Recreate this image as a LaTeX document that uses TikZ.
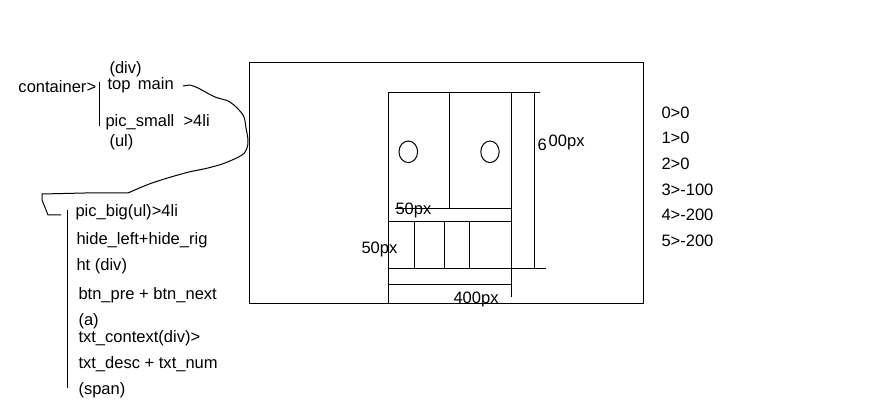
\documentclass[tikz,border=0pt]{standalone}
\usepackage{fontspec}
\setmainfont{Liberation Sans}
\begin{document}
\begin{tikzpicture}[x=0.75pt, y=-0.75pt, line width=0.75pt,
  txt/.style={font=\fontsize{12.4}{14}\selectfont, inner sep=0pt, anchor=base west}]
  \useasboundingbox (0,0) rectangle (875,406);
  % left: page structure notes
  \node[txt] (div) at (109,73.5) {(div)};
  \node[txt] (container) at (18,92.5) {container>};
  \node[txt] (topmain) at (107,89.5) {top\hspace{0.45em}main};
  \node[txt] (picsmall) at (105,127) {pic\_small \ >4li};
  \node[txt] (ul) at (109,147) {(ul)};
  \draw (99,82) -- (99,126);
  \node[txt] (picbig) at (75,217) {pic\_big(ul)>4li};
  \node[txt] (hide) at (76,245) {hide\_left+hide\_rig};
  \node[txt] (ht) at (76,271) {ht (div)};
  \node[txt] (btn) at (78,299) {btn\_pre + btn\_next};
  \node[txt] (a) at (78,325) {(a)};
  \node[txt] (context) at (78,342) {txt\_context(div)>};
  \node[txt] (desc) at (78,368) {txt\_desc + txt\_num};
  \node[txt] (span) at (78,394) {(span)};
  \draw (67,210) -- (67,388);
  % hand drawn link
  \coordinate (linkA) at (183,86);
  \coordinate (linkB) at (61,215);
  \draw[line join=round] (linkA) -- (190,85) plot[smooth, tension=0.55] coordinates {(190,85) (198,88) (215,97) (230,102) (243,115) (246,128) (248,140) (247,148) (242,155) (225,163) (208,168) (185,173) (152,183) (128,193)} -- (85,193) -- (42,194) -- (42,200) -- (48,215) -- (linkB);
  % frame
  \draw (249,63) rectangle (643,303);
  \draw (388,93) -- (540,93);
  \draw (388,93) -- (388,303);
  \draw (449,93) -- (449,209);
  \draw (511,93) -- (511,297);
  \draw (534,93) -- (534,268);
  \draw (395,209) -- (512,209);
  \draw (388,222) -- (512,222);
  \foreach \x in {414,444,469}
    \draw (\x,222) -- (\x,268);
  \draw (388,268) -- (546,268);
  \draw (388,284) -- (512,284);
  \draw (408.3,151.8) ellipse (9.3 and 10.8);
  \draw (490,151.8) ellipse (9.2 and 10.8);
  \node[txt] (h600) at (537,151) {6\raisebox{3pt}{\kern1.5pt00px}};
  \node[txt] (w50a) at (395,215) {50px};
  \node[txt] (w50b) at (361,253) {50px};
  \node[txt] (w400) at (453,303) {400px};
  % right: offsets
  \foreach \i/\v/\y in {0/0/119, 1/0/144, 2/0/170, 3/-100/196, 4/-200/221, 5/-200/247}
    \node[txt] (off\i) at (661,\y) {\i>\v};
\end{tikzpicture}
\end{document}
